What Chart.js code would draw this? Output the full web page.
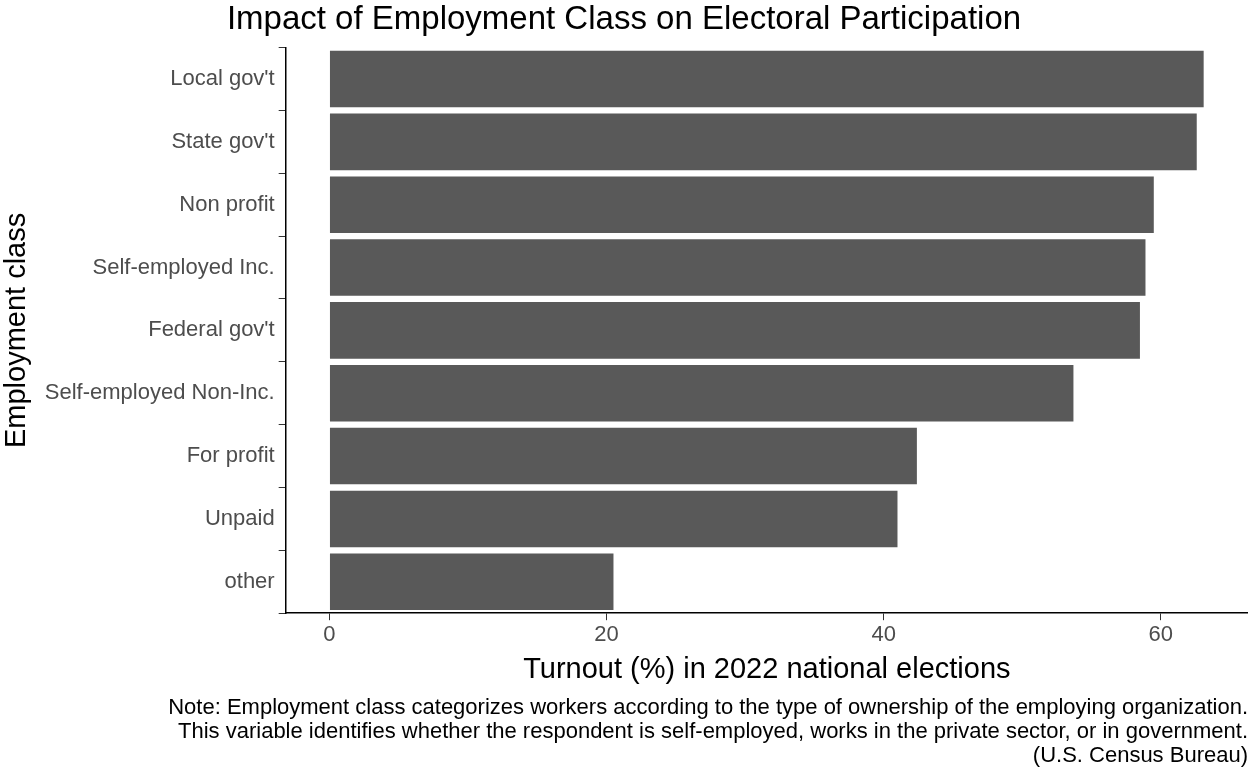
<!DOCTYPE html>
<html><head><meta charset="utf-8">
<script src="https://cdn.jsdelivr.net/npm/chart.js@4"></script>
<style>html,body{margin:0;padding:0;background:#fff}#w{width:1248px;height:768px;position:relative}</style>
</head><body><div id="w"><canvas id="c"></canvas></div>
<script>
const categories=["Local gov't","State gov't","Non profit","Self-employed Inc.","Federal gov't","Self-employed Non-Inc.","For profit","Unpaid","other"];
const turnout=[63.1,62.6,59.5,58.9,58.5,53.7,42.4,41.0,20.5];
const xTicks=[0,20,40,60];
const captionLines=["Note: Employment class categorizes workers according to the type of ownership of the employing organization.","This variable identifies whether the respondent is self-employed, works in the private sector, or in government.","(U.S. Census Bureau)"];
const F="Arial, 'Liberation Sans', sans-serif";
new Chart(document.getElementById('c'),{
type:'bar',
data:{labels:categories,datasets:[{data:turnout,backgroundColor:'#595959',categoryPercentage:1,barPercentage:0.9}]},
options:{indexAxis:'y',responsive:true,maintainAspectRatio:false,animation:false,
layout:{padding:{left:0,right:0,top:0,bottom:0}},
plugins:{legend:{display:false},tooltip:{enabled:false},
title:{display:true,text:'Impact of Employment Class on Electoral Participation',color:'#000',font:{family:F,size:33,weight:'normal'},padding:{top:0,bottom:8},align:'center'},
subtitle:{display:true,position:'bottom',align:'end',text:captionLines,color:'#000',font:{family:F,size:22,lineHeight:1.1},padding:{top:8,bottom:0}}},
scales:{
x:{type:'linear',min:-3.16,max:66.3,afterBuildTicks:s=>{s.ticks=xTicks.map(v=>({value:v}));},
grid:{display:true,drawOnChartArea:false,drawTicks:true,tickLength:7,tickColor:'#333'},border:{display:true,color:'#000',width:1.5},
ticks:{color:'#4d4d4d',font:{family:F,size:22},padding:2},
title:{display:true,text:'Turnout (%) in 2022 national elections',color:'#000',font:{family:F,size:29},padding:{top:2,bottom:0}}},
y:{grid:{display:true,drawOnChartArea:false,drawTicks:true,tickLength:7,tickColor:'#333'},border:{display:true,color:'#000',width:1.5},
ticks:{color:'#4d4d4d',font:{family:F,size:22},padding:4},
title:{display:true,text:'Employment class',color:'#000',font:{family:F,size:29},padding:{top:0,bottom:6}}}
}}});
</script></body></html>
